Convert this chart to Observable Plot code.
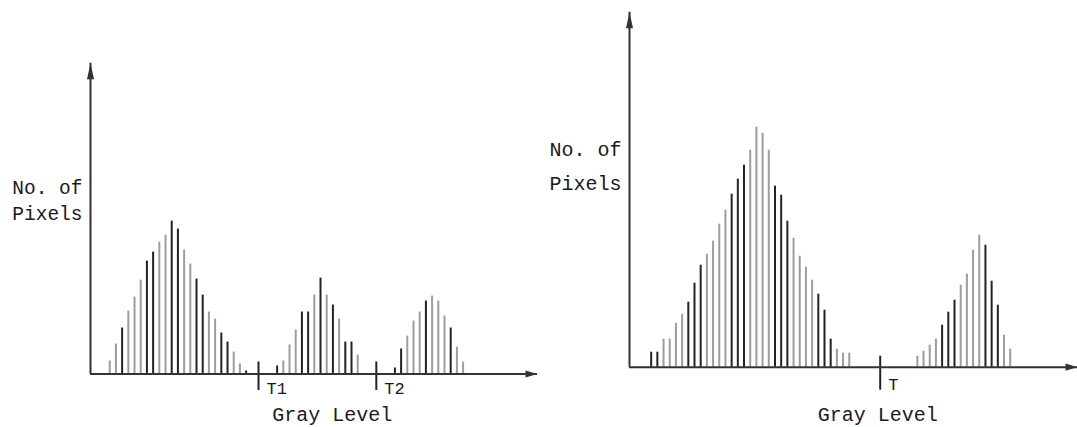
<!DOCTYPE html>
<html><head><meta charset="utf-8">
<script src="https://cdn.jsdelivr.net/npm/d3@7"></script>
<script src="https://cdn.jsdelivr.net/npm/@observablehq/plot@0.6"></script>
<style>
html,body{margin:0;padding:0;background:#fff;}
#wrap{position:relative;width:1077px;height:427px;overflow:hidden;background:#fff;}
#wrap > svg{position:absolute;top:0;}
</style></head><body><div id="wrap"></div>
<script>
// ---- Left histogram (three modes, two thresholds) ----
const leftLevels = [0,1,2,3,4,5,6,7,8,9,10,11,12,13,14,15,16,17,18,19,20,21,22,
  27,28,29,30,31,32,33,34,35,36,37,38,39,40,
  46,47,48,49,50,51,52,53,54,55,56,57];
const leftCounts = [13,30,46,63,77,94,113,122,132,139,153,145,124,110,95,79,62,55,41,32,22,10,3,
  8,13,29,44,62,62,79,96,79,69,55,32,32,19,
  6,25,38,53,62,73,78,73,58,46,27,12];
const leftTones = ["L","L","D","L","L","L","D","D","L","L","D","D","L","L","D","D","L","L","D","D","L","L","D",
  "D","L","L","L","D","D","L","D","L","D","L","D","D","L",
  "D","D","L","L","L","D","L","L","L","D","L","L"];
const leftThreshNames = ["T1","T2"];
const leftThreshLevels = [24, 43];
const leftThreshCounts = [12, 12];

// ---- Right histogram (two modes, one threshold) ----
const rightLevels = [0,1,2,3,4,5,6,7,8,9,10,11,12,13,14,15,16,17,18,19,20,21,22,23,24,25,26,27,28,29,30,31,32,
  43,44,45,46,47,48,49,50,51,52,53,54,55,56,57,58];
const rightCounts = [15,15,28,28,44,53,65,84,102,113,126,143,157,173,188,202,217,240,234,217,181,172,146,129,111,100,87,73,57,28,18,14,14,
  11,16,22,28,42,55,67,82,93,117,132,122,86,62,32,18];
const rightTones = ["D","D","L","L","L","L","D","D","D","L","L","L","L","D","D","D","L","L","L","L","D","D","D","L","L","L","L","D","D","D","L","L","L",
  "L","L","L","L","D","D","D","L","L","L","L","D","D","D","L","L"];
const rightThreshNames = ["T"];
const rightThreshLevels = [37];
const rightThreshCounts = [11];

const yLabelLines = ["No. of", "Pixels"];
const xLabel = "Gray Level";

const FONT = "Liberation Mono, DejaVu Sans Mono, monospace";
const AXIS = "#333";
const toneColor = t => t === "D" ? "#222" : "#9d9d9d";

const upHead = {draw(c){ c.moveTo(0,0); c.lineTo(3.5,16); c.lineTo(-3.5,16); c.closePath(); }};
const rightHead = {draw(c){ c.moveTo(0,0); c.lineTo(-12,-3.6); c.lineTo(-12,3.6); c.closePath(); }};

function chart(o) {
  const bars = o.levels.map((l, i) => ({level: l, count: o.counts[i], tone: o.tones[i]}));
  const thr = o.tNames.map((n, i) => ({name: n, level: o.tLevels[i], count: o.tCounts[i]}));
  const [x0, x1] = o.xDomain, [y0, y1] = o.yDomain;
  return Plot.plot({
    width: o.width, height: 427,
    marginLeft: o.ml, marginRight: o.mr, marginTop: o.mt, marginBottom: o.mb,
    x: {domain: o.xDomain, axis: null},
    y: {domain: o.yDomain, axis: null},
    style: {background: "white", overflow: "visible"},
    marks: [
      Plot.ruleX(bars, {x: "level", y1: 0, y2: "count", stroke: d => toneColor(d.tone), strokeWidth: 2}),
      Plot.ruleX(thr, {x: "level", y1: "count", y2: 0, stroke: "#222", strokeWidth: 2, insetBottom: o.tickBelow}),
      Plot.text(thr, {x: "level", y: 0, text: "name", textAnchor: "start", dx: 8, dy: o.tDy,
        fontFamily: FONT, fontSize: 17, fill: "#1a1a1a"}),
      Plot.ruleY([0], {x1: x0, x2: x1, stroke: AXIS, strokeWidth: 2}),
      Plot.ruleX([x0], {y1: y0, y2: y1, stroke: AXIS, strokeWidth: 2}),
      Plot.dot([0], {x: x0, y: y1, symbol: upHead, fill: AXIS, stroke: "none"}),
      Plot.dot([0], {x: x1, y: 0, symbol: rightHead, fill: AXIS, stroke: "none"}),
      Plot.text([yLabelLines.join("\n")], {x: x0, y: o.yLabelAt, text: d => d, textAnchor: "end", dx: -8,
        lineHeight: o.yLabelLH, fontFamily: FONT, fontSize: o.yLabelSize, fill: "#1a1a1a"}),
      Plot.text([xLabel], {x: o.xLabelAt, y: 0, text: d => d, dy: o.xLabelDy,
        fontFamily: FONT, fontSize: 20, fill: "#1a1a1a"})
    ]
  });
}

const wrap = document.getElementById("wrap");
const left = chart({
  levels: leftLevels, counts: leftCounts, tones: leftTones,
  tNames: leftThreshNames, tLevels: leftThreshLevels, tCounts: leftThreshCounts,
  width: 540, ml: 90, mr: 3, mt: 62.7, mb: 53.5,
  xDomain: [-3.1, 69], yDomain: [0, 311],
  tickBelow: -16.5, tDy: 15,
  yLabelAt: 175.5, yLabelLH: 1.35, yLabelSize: 19.5,
  xLabelAt: 35.9, xLabelDy: 41
});
left.style.left = "0px";
wrap.appendChild(left);

const right = chart({
  levels: rightLevels, counts: rightCounts, tones: rightTones,
  tNames: rightThreshNames, tLevels: rightThreshLevels, tCounts: rightThreshCounts,
  width: 537, ml: 89, mr: 0, mt: 11.7, mb: 60.3,
  xDomain: [-3.5, 68.87], yDomain: [0, 355],
  tickBelow: -23, tDy: 17,
  yLabelAt: 205, yLabelLH: 1.7, yLabelSize: 20,
  xLabelAt: 36.6, xLabelDy: 47.5
});
right.style.left = "540px";
wrap.appendChild(right);
</script></body></html>
